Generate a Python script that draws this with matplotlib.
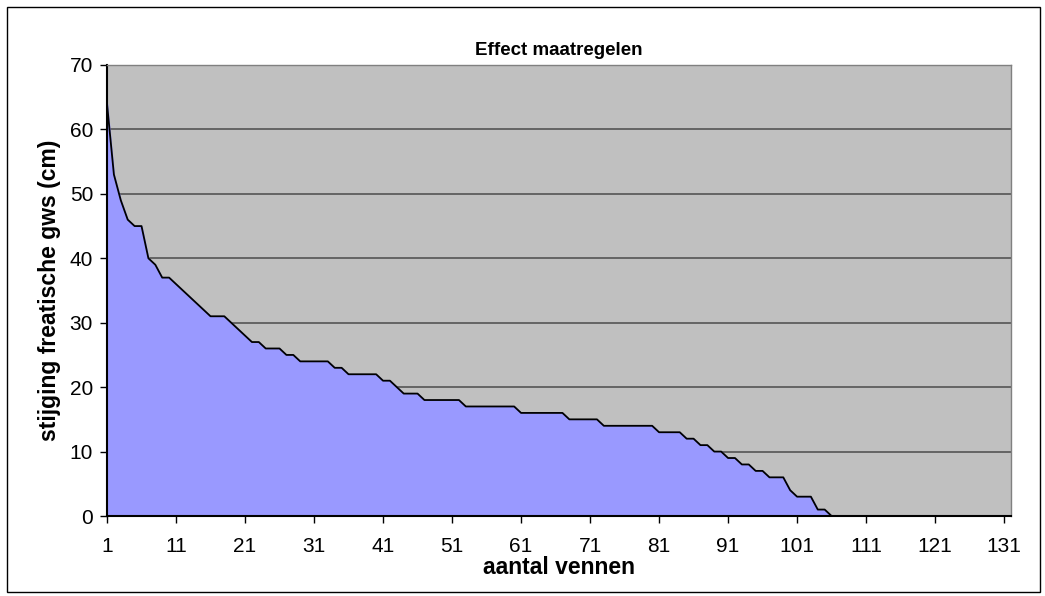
import numpy as np
import matplotlib.pyplot as plt
from matplotlib.patches import Rectangle

plt.rcParams['font.family'] = ['Liberation Sans', 'DejaVu Sans']

# number of fens (categories 1..132)
vennen = np.arange(1, 133)

# rise of phreatic groundwater level (cm)
stijging = (
    [64, 53, 49, 46, 45, 45, 40, 39, 37, 37,
     36, 35, 34, 33, 32, 31, 31, 31, 30, 29,
     28, 27, 27, 26, 26, 26, 25, 25]
    + [24] * 5 + [23] * 2 + [22] * 5 + [21] * 2 + [20]
    + [19] * 3 + [18] * 6 + [17] * 8 + [16] * 7 + [15] * 5
    + [14] * 8 + [13] * 4 + [12] * 2 + [11] * 2 + [10] * 2
    + [9] * 2 + [8] * 2 + [7] * 2 + [6] * 3 + [4] + [3] * 3
    + [1] * 2
)
stijging = stijging + [0] * (len(vennen) - len(stijging))
stijging = np.array(stijging)

x_ticks = np.arange(1, 132, 10)
y_ticks = np.arange(0, 71, 10)

W, H = 1045, 596
fig = plt.figure(figsize=(W / 100, H / 100), dpi=100)
fig.patch.set_facecolor('white')
# outer chart border
fig.patches.append(Rectangle((7 / W, 4 / H), 1033 / W, 585 / H, transform=fig.transFigure,
                             fill=False, edgecolor='black', linewidth=1))

ax = fig.add_axes([107 / W, 1 - 516 / H, (1011 - 107) / W, (516 - 65) / H])
ax.set_facecolor('#C0C0C0')

ax.fill_between(vennen, stijging, 0, color='#9999FF', zorder=2)
ax.plot(vennen, stijging, color='black', linewidth=1.3, zorder=3)

ax.set_xlim(1, 132)
ax.set_ylim(0, 70)
ax.set_xticks(x_ticks)
ax.set_yticks(y_ticks)
ax.yaxis.grid(True, color='#555555', linewidth=1.2, zorder=1)
ax.set_axisbelow(True)

for side in ['top', 'right']:
    ax.spines[side].set_color('#808080')
    ax.spines[side].set_linewidth(1)
for side in ['left', 'bottom']:
    ax.spines[side].set_color('black')
    ax.spines[side].set_linewidth(1.5)

ax.tick_params(axis='both', direction='out', length=5, width=1, labelsize=15, color='black')
ax.tick_params(axis='x', pad=10)
ax.tick_params(axis='y', pad=5)

ax.set_title('Effect maatregelen', fontsize=13.5, fontweight='bold', pad=7)
ax.set_xlabel('aantal vennen', fontsize=16.5, fontweight='bold', labelpad=0)
ax.set_ylabel('stijging freatische gws (cm)', fontsize=16.5, fontweight='bold', labelpad=6)

fig.savefig('out.png', dpi=100)
